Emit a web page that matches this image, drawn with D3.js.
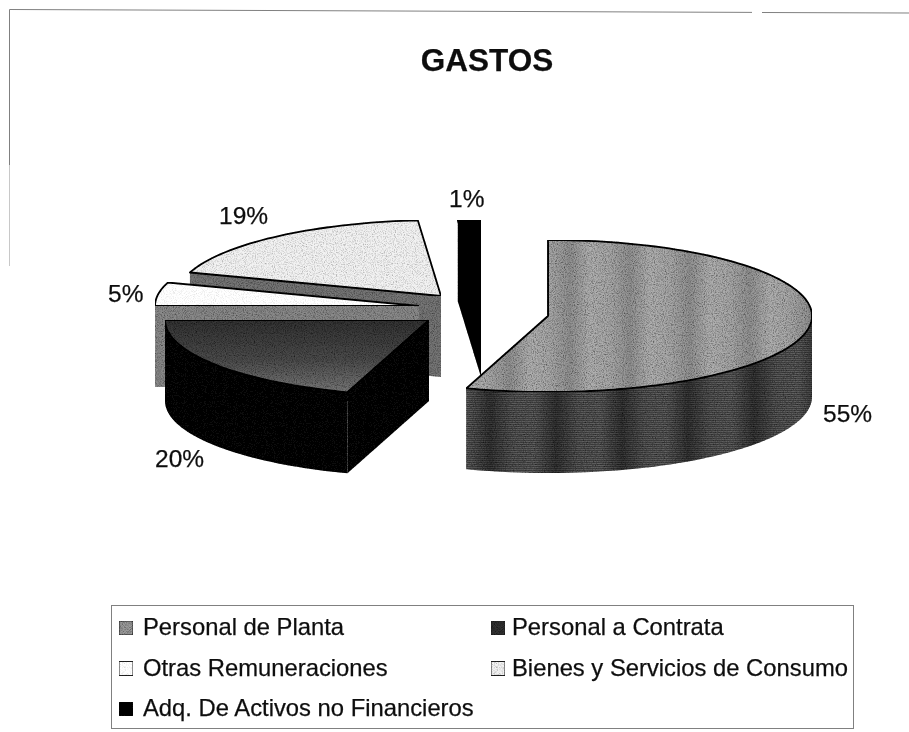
<!DOCTYPE html>
<html>
<head>
<meta charset="utf-8">
<script src="https://cdn.jsdelivr.net/npm/d3@7"></script>
<style>
  html, body { margin: 0; padding: 0; background: #fff; }
  text { font-family: "Liberation Sans", Arial, sans-serif; fill: #111; stroke: #111; stroke-width: 0.25px; }
</style>
</head>
<body>
<script>
// GASTOS - exploded 3D pie, redrawn from a scanned chart

const categories = ['Personal de Planta', 'Personal a Contrata', 'Otras Remuneraciones', 'Bienes y Servicios de Consumo', 'Adq. De Activos no Financieros'];
const values = [55, 20, 5, 18.6, 1.4];
const chartTitle = 'GASTOS';

const width = 909, height = 732;
const rx = 264, ry = 76, depth = 81;

// where each slice's tip ended up after exploding, and where its label sits
const tips = [[548, 316], [429, 320], [419, 306], [441, 296], [481, 296]];
const labelPos = [[823, 422], [155, 467], [108, 302], [219, 224], [449, 207]];

const topFill = ['url(#gTop0)', 'url(#gTop1)', '#ffffff', '#f2f2f2', '#050505'];
const wallFill = ['url(#gWall0)', '#111111', '#8a8a8a', '#767676', '#050505'];
const cutFill = ['#3c3c3c', '#111111', '#8a8a8a', '#767676', '#050505'];
const topGrain = ['grain', 'grain', 'grainFaint', 'grainLight', 'grain'];
const swatchFill = ['#9a9a9a', '#333333', '#ffffff', '#f2f2f2', '#000000'];
const swatchGrain = ['grain', 'grain', 'grainFaint', 'grainLight', 'grain'];

const svg = d3.select('body').append('svg')
    .attr('width', width)
    .attr('height', height)
    .style('display', 'block');

const defs = svg.append('defs');

function bands(id, period, stops) {
    const g = defs.append('linearGradient')
        .attr('id', id)
        .attr('gradientUnits', 'userSpaceOnUse')
        .attr('spreadMethod', 'repeat')
        .attr('x1', 490).attr('x2', 490 + period)
        .attr('y1', 0).attr('y2', 0);
    stops.forEach((c, i) => g.append('stop')
        .attr('offset', i / (stops.length - 1))
        .attr('stop-color', c));
}
bands('gTop0', 60, ['#a8a8a8', '#929292', '#b0b0b0', '#a8a8a8']);
bands('gWall0', 66, ['#3a3a3a', '#5c5c5c', '#626262', '#3a3a3a']);

const gTop1 = defs.append('linearGradient')
    .attr('id', 'gTop1')
    .attr('x1', 0).attr('x2', 0).attr('y1', 0).attr('y2', 1);
gTop1.append('stop').attr('offset', 0).attr('stop-color', '#333333');
gTop1.append('stop').attr('offset', 0.55).attr('stop-color', '#4c4c4c');
gTop1.append('stop').attr('offset', 1).attr('stop-color', '#787878');

// scan grain, fixed seed
function makeGrain(id, slope, shift) {
    const f = defs.append('filter')
        .attr('id', id)
        .attr('x', 0).attr('y', 0).attr('width', 1).attr('height', 1);
    f.append('feTurbulence')
        .attr('type', 'fractalNoise')
        .attr('baseFrequency', 0.9)
        .attr('numOctaves', 2)
        .attr('seed', 4)
        .attr('result', 'n');
    f.append('feColorMatrix')
        .attr('in', 'n')
        .attr('type', 'matrix')
        .attr('values', `0 0 0 0 0  0 0 0 0 0  0 0 0 0 0  ${slope} 0 0 0 ${shift}`)
        .attr('result', 'dots');
    f.append('feComposite')
        .attr('in', 'dots')
        .attr('in2', 'SourceAlpha')
        .attr('operator', 'in')
        .attr('result', 'clipped');
    f.append('feMerge').call(m => {
        m.append('feMergeNode').attr('in', 'SourceGraphic');
        m.append('feMergeNode').attr('in', 'clipped');
    });
}
makeGrain('grain', 1.6, -0.62);
makeGrain('grainLight', 1.2, -0.52);
makeGrain('grainFaint', 0.7, -0.33);

// slight softness of the scan
defs.append('filter')
    .attr('id', 'soft')
    .attr('filterUnits', 'userSpaceOnUse')
    .attr('x', 0).attr('y', 0).attr('width', width).attr('height', height)
    .append('feGaussianBlur')
    .attr('stdDeviation', 0.4);

// horizontal raster on the walls
const raster = defs.append('pattern')
    .attr('id', 'raster')
    .attr('patternUnits', 'userSpaceOnUse')
    .attr('width', 4).attr('height', 2);
raster.append('rect').attr('width', 4).attr('height', 1).attr('fill', '#000').attr('opacity', 0.3);

const chart = svg.append('g').attr('filter', 'url(#soft)');

// frame of the scanned page, it fades out on the left and has a gap on top
chart.append('path')
    .attr('d', 'M9.5,165V9.5L752,12.4M762,12.5L909,13')
    .attr('fill', 'none')
    .attr('stroke', '#808080');
chart.append('path')
    .attr('d', 'M9.5,165V266')
    .attr('fill', 'none')
    .attr('stroke', '#c8c8c8');

chart.append('text')
    .attr('x', 487).attr('y', 71)
    .attr('text-anchor', 'middle')
    .attr('font-size', 31.5)
    .attr('font-weight', 'bold')
    .text(chartTitle);

const pie = d3.pie().sort(null).value(d => d);
const arcs = pie(values);

const line = d3.line();
const xOff = d3.scaleLinear().domain([0, 1]).range([0, rx]);
const yOff = d3.scaleLinear().domain([0, 1]).range([0, ry]);

function rim(tip, a) {
    return [tip[0] + xOff(Math.sin(a)), tip[1] - yOff(Math.cos(a))];
}
function rimRun(tip, a0, a1) {
    const n = Math.max(2, Math.ceil((a1 - a0) / 0.03));
    return d3.range(n + 1).map(i => rim(tip, a0 + (a1 - a0) * i / n));
}
const drop = p => [p[0], p[1] + depth];

function face(g, pts, fill, stroke, grainId) {
    g.append('path')
        .attr('d', line(pts) + 'Z')
        .attr('fill', fill)
        .attr('stroke', stroke || 'none')
        .attr('stroke-width', 1.8)
        .attr('stroke-linejoin', 'round')
        .attr('filter', `url(#${grainId || 'grain'})`);
}

// back slices first so nearer ones cover them
[3, 2, 1, 4, 0].forEach(i => {
    const d = arcs[i], tip = tips[i];
    const g = chart.append('g');
    const p0 = rim(tip, d.startAngle), p1 = rim(tip, d.endAngle);

    face(g, [tip, p1, drop(p1), drop(tip)], cutFill[i]);
    face(g, [tip, p0, drop(p0), drop(tip)], cutFill[i]);

    const w0 = Math.max(d.startAngle, Math.PI / 2), w1 = Math.min(d.endAngle, Math.PI * 1.5);
    if (w1 > w0) {
        const run = rimRun(tip, w0, w1);
        face(g, run.concat(run.slice().reverse().map(drop)), wallFill[i]);
        if (i === 0) {
            g.append('path')
                .attr('d', line(run.concat(run.slice().reverse().map(drop))) + 'Z')
                .attr('fill', 'url(#raster)');
        }
    }

    face(g, [tip].concat(rimRun(tip, d.startAngle, d.endAngle)), topFill[i], '#000', topGrain[i]);
});

// percentage labels
chart.append('g').selectAll('text')
    .data(values)
    .join('text')
    .attr('x', (d, i) => labelPos[i][0])
    .attr('y', (d, i) => labelPos[i][1])
    .attr('font-size', 24.5)
    .text(d => Math.round(d) + '%');

// legend
const legendX = d3.scalePoint().domain([0, 1]).range([119, 491]);
const legendY = d3.scalePoint().domain([0, 1, 2]).range([635, 716]);

chart.append('rect')
    .attr('x', 111.5).attr('y', 605.5)
    .attr('width', 742).attr('height', 123)
    .attr('fill', 'none')
    .attr('stroke', '#808080');

const legend = chart.append('g').selectAll('g')
    .data(categories)
    .join('g')
    .attr('transform', (d, i) => `translate(${legendX(i % 2)},${legendY(Math.floor(i / 2))})`);

legend.append('rect')
    .attr('y', -14)
    .attr('width', 14).attr('height', 14)
    .attr('fill', (d, i) => swatchFill[i])
    .attr('stroke', '#222')
    .attr('stroke-width', 1)
    .attr('filter', (d, i) => `url(#${swatchGrain[i]})`);

legend.append('text')
    .attr('x', (d, i) => i % 2 ? 21 : 24)
    .attr('font-size', 23.8)
    .text(d => d);
</script>
</body>
</html>
